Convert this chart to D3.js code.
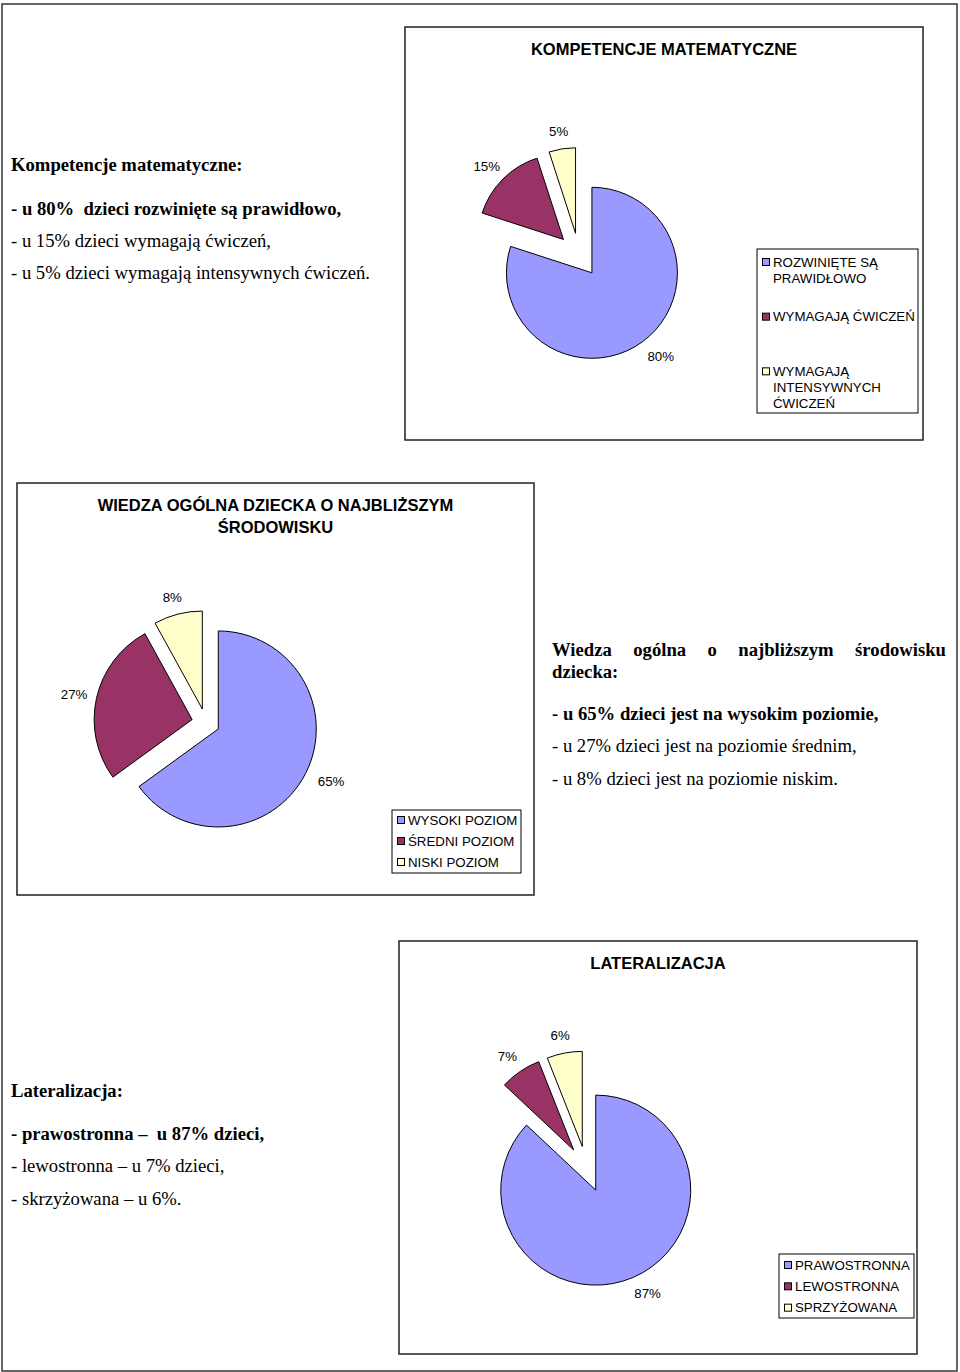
<!DOCTYPE html>
<html>
<head>
<meta charset="utf-8">
<script src="https://cdn.jsdelivr.net/npm/d3@7"></script>
<style>
  body { margin: 0; background: #fff; }
  svg { display: block; }
  .sans { font-family: Arial, "Liberation Sans", sans-serif; }
  .serif { font-family: "Times New Roman", "Liberation Serif", serif; }
</style>
</head>
<body>
<svg id="page" width="960" height="1372"></svg>
<script>
// values
const mathCategories = ["ROZWINIĘTE SĄ PRAWIDŁOWO", "WYMAGAJĄ ĆWICZEŃ", "WYMAGAJĄ INTENSYWNYCH ĆWICZEŃ"];
const mathValues = [80, 15, 5];

const knowCategories = ["WYSOKI POZIOM", "ŚREDNI POZIOM", "NISKI POZIOM"];
const knowValues = [65, 27, 8];

const latCategories = ["PRAWOSTRONNA", "LEWOSTRONNA", "SPRZYŻOWANA"];
const latValues = [87, 7, 6];

const sliceColors = ["#9999ff", "#993366", "#ffffcc"];

const svg = d3.select('#page');

// page frame
svg.append('rect')
  .attr('x', 2).attr('y', 4)
  .attr('width', 955).attr('height', 1367)
  .attr('fill', 'none').attr('stroke', '#333').attr('stroke-width', 1.5);

const charts = [
  {
    title: ["KOMPETENCJE MATEMATYCZNE"], titleY: 55,
    values: mathValues, cats: mathCategories,
    box: {x: 405, y: 27, w: 518, h: 413},
    cx: 579, cy: 255, r: 85.5, explode: 22,
    legend: {x: 757, y: 249, w: 161, h: 164, first: 13}
  },
  {
    title: ["WIEDZA OGÓLNA DZIECKA O NAJBLIŻSZYM", "ŚRODOWISKU"], titleY: 511,
    values: knowValues, cats: knowCategories,
    box: {x: 17, y: 483, w: 517, h: 412},
    cx: 205.8, cy: 722.6, r: 98, explode: 14,
    legend: {x: 392, y: 810, w: 129, h: 63, first: 10}
  },
  {
    title: ["LATERALIZACJA"], titleY: 969,
    values: latValues, cats: latCategories,
    box: {x: 399, y: 941, w: 518, h: 413},
    cx: 586.6, cy: 1169, r: 95, explode: 23,
    legend: {x: 779, y: 1254, w: 135, h: 64, first: 11}
  }
];

const pie = d3.pie().sort(null).value(d => d);

function wrapWords(text, maxW, measure) {
  const words = text.split(' ');
  const lines = [];
  let cur = words[0];
  for (let i = 1; i < words.length; i++) {
    const test = cur + ' ' + words[i];
    if (measure(test) > maxW) { lines.push(cur); cur = words[i]; }
    else cur = test;
  }
  lines.push(cur);
  return lines;
}

charts.forEach(c => {
  const g = svg.append('g');

  g.append('rect')
    .attr('x', c.box.x).attr('y', c.box.y)
    .attr('width', c.box.w).attr('height', c.box.h)
    .attr('fill', '#fff').attr('stroke', '#222').attr('stroke-width', 1.5);

  g.selectAll('.title')
    .data(c.title)
    .enter()
    .append('text')
    .attr('class', 'sans')
    .attr('x', c.box.x + c.box.w / 2)
    .attr('y', (d, i) => c.titleY + i * 22)
    .attr('text-anchor', 'middle')
    .attr('font-size', 16.5)
    .attr('font-weight', 'bold')
    .attr('fill', '#000')
    .text(d => d);

  const arc = d3.arc().innerRadius(0).outerRadius(c.r);
  const arcs = pie(c.values);

  const slices = g.selectAll('.slice')
    .data(arcs)
    .enter()
    .append('g')
    .attr('transform', d => {
      const a = (d.startAngle + d.endAngle) / 2;
      return `translate(${c.cx + c.explode * Math.sin(a)}, ${c.cy - c.explode * Math.cos(a)})`;
    });

  slices.append('path')
    .attr('d', arc)
    .attr('fill', (d, i) => sliceColors[i])
    .attr('stroke', '#000')
    .attr('stroke-width', 1)
    .attr('stroke-linejoin', 'miter');

  slices.append('text')
    .attr('class', 'sans')
    .attr('font-size', 13.3)
    .attr('text-anchor', 'middle')
    .attr('dominant-baseline', 'central')
    .attr('x', d => {
      const a = (d.startAngle + d.endAngle) / 2;
      return Math.sin(a) * (c.r + 11) + Math.sin(a) * 12 + (Math.sin(a) > 0 ? 5 : 0);
    })
    .attr('y', d => {
      const a = (d.startAngle + d.endAngle) / 2;
      return -Math.cos(a) * (c.r + 11) - Math.cos(a) * 6.5;
    })
    .text(d => `${d.data}%`);

  // legend
  const L = c.legend;
  g.append('rect')
    .attr('x', L.x).attr('y', L.y)
    .attr('width', L.w).attr('height', L.h)
    .attr('fill', '#fff').attr('stroke', '#000').attr('stroke-width', 1);

  const slot = L.h / c.cats.length;
  const probe = g.append('text').attr('class', 'sans').attr('font-size', 13.3);
  const measure = s => { probe.text(s); return probe.node().getComputedTextLength(); };

  c.cats.forEach((cat, i) => {
    const top = L.y + i * slot + L.first;
    g.append('rect')
      .attr('x', L.x + 5.5).attr('y', top - 3.5)
      .attr('width', 7).attr('height', 7)
      .attr('fill', sliceColors[i]).attr('stroke', '#000').attr('stroke-width', 1);
    const lines = wrapWords(cat, L.w - 16, measure);
    g.selectAll(null)
      .data(lines)
      .enter()
      .append('text')
      .attr('class', 'sans')
      .attr('font-size', 13.3)
      .attr('x', L.x + 16)
      .attr('y', (d, j) => top + j * 16)
      .attr('dominant-baseline', 'central')
      .text(d => d);
  });
  probe.remove();
});

// descriptive text beside the charts
const blocks = [
  {x: 11, lines: [
    {t: "Kompetencje matematyczne:", b: true, y: 171},
    {t: "- u 80%  dzieci rozwinięte są prawidłowo,", b: true, y: 215},
    {t: "- u 15% dzieci wymagają ćwiczeń,", b: false, y: 247},
    {t: "- u 5% dzieci wymagają intensywnych ćwiczeń.", b: false, y: 279}
  ]},
  {x: 552, lines: [
    {t: "Wiedza ogólna o najbliższym środowisku", b: true, y: 656, justify: 946},
    {t: "dziecka:", b: true, y: 678},
    {t: "- u 65% dzieci jest na wysokim poziomie,", b: true, y: 720},
    {t: "- u 27% dzieci jest na poziomie średnim,", b: false, y: 752},
    {t: "- u 8% dzieci jest na poziomie niskim.", b: false, y: 785}
  ]},
  {x: 11, lines: [
    {t: "Lateralizacja:", b: true, y: 1097},
    {t: "- prawostronna –  u 87% dzieci,", b: true, y: 1140},
    {t: "- lewostronna – u 7% dzieci,", b: false, y: 1172},
    {t: "- skrzyżowana – u 6%.", b: false, y: 1205}
  ]}
];

blocks.forEach(bl => {
  bl.lines.forEach(ln => {
    if (ln.justify) {
      const words = ln.t.split(' ');
      const nodes = words.map(w => svg.append('text')
        .attr('class', 'serif')
        .attr('font-size', 18.67)
        .attr('font-weight', ln.b ? 'bold' : 'normal')
        .attr('y', ln.y)
        .text(w));
      const widths = nodes.map(n => n.node().getComputedTextLength());
      const total = d3.sum(widths);
      const gap = (ln.justify - bl.x - total) / (words.length - 1);
      let x = bl.x;
      nodes.forEach((n, i) => { n.attr('x', x); x += widths[i] + gap; });
    } else {
      svg.append('text')
        .attr('class', 'serif')
        .attr('x', bl.x)
        .attr('y', ln.y)
        .attr('font-size', 18.67)
        .attr('font-weight', ln.b ? 'bold' : 'normal')
        .style('white-space', 'pre')
        .text(ln.t);
    }
  });
});
</script>
</body>
</html>
